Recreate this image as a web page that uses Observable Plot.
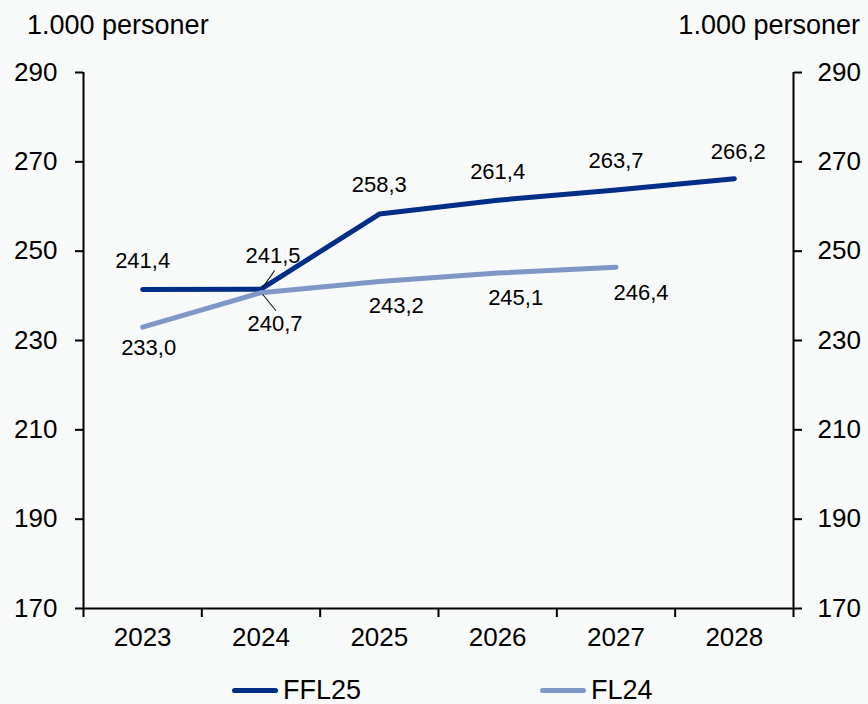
<!DOCTYPE html>
<html><head><meta charset="utf-8">
<script src="https://cdn.jsdelivr.net/npm/d3@7"></script>
<script src="https://cdn.jsdelivr.net/npm/@observablehq/plot@0.6"></script>
<style>
html,body{margin:0;padding:0;background:#f8f9f9;}
body{font-family:"Liberation Sans",Arial,sans-serif;color:#000;}
#wrap{position:relative;width:868px;height:704px;overflow:hidden;}
#chart{position:absolute;left:0;top:0;}
.unit{position:absolute;top:10px;font-size:27px;white-space:nowrap;}
#legend{position:absolute;top:674px;left:0;width:868px;height:32px;}
.item{position:absolute;top:0;display:flex;align-items:center;font-size:27px;height:32px;}
.sw{display:inline-block;width:46px;height:5px;border-radius:3px;margin-right:5px;}
</style></head><body>
<div id="wrap">
  <div id="chart"></div>
  <div class="unit" style="left:27px">1.000 personer</div>
  <div class="unit" style="right:8px">1.000 personer</div>
  <div id="legend"></div>
</div>
<script>
// Data
const years = [2023, 2024, 2025, 2026, 2027, 2028];
const ffl25 = [241.4, 241.5, 258.3, 261.4, 263.7, 266.2];
const fl24Years = [2023, 2024, 2025, 2026, 2027];
const fl24 = [233.0, 240.7, 243.2, 245.1, 246.4];
const yTicks = [170, 190, 210, 230, 250, 270, 290];
const seriesNames = ["FFL25", "FL24"];
const seriesColors = ["#002D87", "#7F97C6"];

// Label placement (pixel offsets, per series/point)
const ffl25Offsets = [[0,-29],[12,-33],[0,-29],[0,-28],[0,-29],[4,-27]];
const fl24Offsets = [[6,21],[14,31],[17,24],[18,25],[25,26]];

const fmt = v => v.toFixed(1).replace(".", ",");
const rowsA = ffl25.map((v,i)=>({year:years[i], value:v, series:seriesNames[0], dx:ffl25Offsets[i][0], dy:ffl25Offsets[i][1]}));
const rowsB = fl24.map((v,i)=>({year:fl24Years[i], value:v, series:seriesNames[1], dx:fl24Offsets[i][0], dy:fl24Offsets[i][1]}));
const data = rowsA.concat(rowsB);
const boundaries = years.map(y => y - 0.5).concat([years[years.length-1] + 0.5]);
const xDomain = [boundaries[0], boundaries[boundaries.length-1]];

// leader lines at the crossing year (2024)
const leaderA = rowsA.filter(d => d.year === 2024);
const leaderB = rowsB.filter(d => d.year === 2024);

const textMarks = data.map(d => Plot.text([d], {
  x: "year", y: "value", text: r => fmt(r.value), dx: d.dx, dy: d.dy,
  fontSize: 22, fill: "#000"
}));

const chart = Plot.plot({
  width: 868, height: 665,
  marginLeft: 83, marginRight: 75, marginTop: 72, marginBottom: 57,
  style: {background: "transparent", fontFamily: "Liberation Sans, Arial, sans-serif", fontSize: "26px", color: "#000"},
  x: {type: "linear", domain: xDomain},
  y: {domain: [yTicks[0], yTicks[yTicks.length-1]]},
  color: {domain: seriesNames, range: seriesColors},
  marks: [
    Plot.axisY({anchor: "left", ticks: yTicks, tickSize: 8, tickPadding: 18, strokeWidth: 2, label: null, fontSize: 26, tickFormat: d => String(d)}),
    Plot.axisY({anchor: "right", ticks: yTicks, tickSize: 8, tickPadding: 16, strokeWidth: 2, label: null, fontSize: 26, tickFormat: d => String(d)}),
    Plot.axisX({ticks: boundaries, tickSize: 9, strokeWidth: 2, tickFormat: () => "", label: null}),
    Plot.axisX({ticks: years, tickSize: 0, tickPadding: 19, label: null, fontSize: 26, tickFormat: d => String(d)}),
    Plot.ruleX(xDomain, {stroke: "#000", strokeWidth: 2}),
    Plot.ruleY([yTicks[0]], {stroke: "#000", strokeWidth: 2}),
    Plot.line(data, {x: "year", y: "value", z: "series", stroke: "series", strokeWidth: 5, strokeLinecap: "round", strokeLinejoin: "round"}),
    Plot.vector(leaderA, {x: "year", y: "value", length: 20, rotate: 35, shape: "spike", r: 0, stroke: "#000", strokeWidth: 1, anchor: "start", dx: 2, dy: -2}),
    Plot.vector(leaderB, {x: "year", y: "value", length: 20, rotate: 141, shape: "spike", r: 0, stroke: "#000", strokeWidth: 1, anchor: "start", dx: 2, dy: 2}),
    ...textMarks
  ]
});
document.getElementById("chart").appendChild(chart);

// Legend
const legend = document.getElementById("legend");
const legendLeft = [232, 540];
seriesNames.forEach((name, i) => {
  const it = document.createElement("div");
  it.className = "item";
  it.style.left = legendLeft[i] + "px";
  const sw = document.createElement("span");
  sw.className = "sw";
  sw.style.background = seriesColors[i];
  it.appendChild(sw);
  it.appendChild(document.createTextNode(name));
  legend.appendChild(it);
});
</script>
</body></html>
